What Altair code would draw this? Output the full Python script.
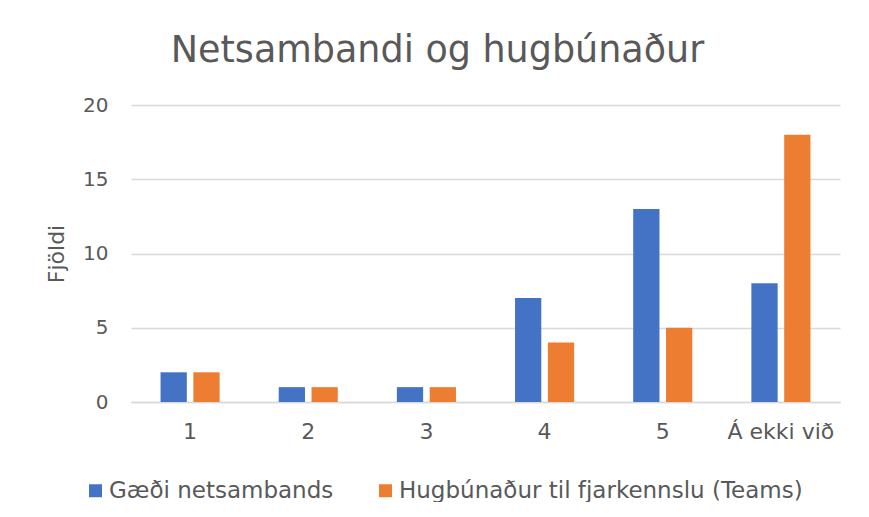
import altair as alt
import pandas as pd

categories = ["1", "2", "3", "4", "5", "Á ekki við"]
series_names = ["Gæði netsambands", "Hugbúnaður til fjarkennslu (Teams)"]
gaedi = [2, 1, 1, 7, 13, 8]
hugbunadur = [2, 1, 1, 4, 5, 18]
colors = ["#4472C4", "#ED7D31"]

rows = []
for c, a, b in zip(categories, gaedi, hugbunadur):
    rows.append({"flokkur": c, "röð": series_names[0], "fjöldi": a})
    rows.append({"flokkur": c, "röð": series_names[1], "fjöldi": b})
df = pd.DataFrame(rows)

FONT = "DejaVu Sans"
TXT = "#595959"
GRID = "#D9D9D9"

chart = alt.Chart(df).mark_bar().encode(
    x=alt.X("flokkur:N", sort=categories,
            scale=alt.Scale(paddingInner=0.5, paddingOuter=0.25),
            axis=alt.Axis(title=None, labelAngle=0, labelFontSize=22, labelColor=TXT,
                          labelFont=FONT, labelPadding=19, ticks=False, grid=False,
                          domainColor=GRID, domainWidth=1.5)),
    xOffset=alt.XOffset("röð:N", sort=series_names,
                        scale=alt.Scale(paddingInner=0.2, paddingOuter=0)),
    y=alt.Y("fjöldi:Q", scale=alt.Scale(domain=[0, 20]),
            axis=alt.Axis(title="Fjöldi", values=[0, 5, 10, 15, 20], labelFontSize=20,
                          labelColor=TXT, labelFont=FONT, labelPadding=23, ticks=False,
                          domain=False, gridColor=GRID, gridWidth=1.5,
                          titleFont=FONT, titleFontSize=22, titleFontWeight="normal",
                          titleColor=TXT, titlePadding=14)),
    color=alt.Color("röð:N", sort=series_names,
                    scale=alt.Scale(domain=series_names, range=colors),
                    legend=alt.Legend(title=None, orient="none", direction="horizontal",
                                      legendX=-47, legendY=374, padding=0,
                                      symbolType="square",
                                      symbolSize=169, symbolStrokeWidth=0,
                                      labelFontSize=23, labelFont=FONT, labelColor=TXT,
                                      labelOffset=2, columnPadding=40, labelLimit=600)),
).properties(
    width=709,
    height=297,
    title=alt.TitleParams("Netsambandi og hugbúnaður", anchor="middle", frame="group",
                          dx=-48, dy=45, offset=42, baseline="alphabetic", fontSize=36.5,
                          font=FONT, fontWeight="normal", color=TXT),
    autosize=alt.AutoSizeParams(type="none"),
    padding={"left": 123, "top": 97, "right": 20, "bottom": 100},
    view=alt.ViewBackground(stroke="transparent", strokeWidth=0),
).configure_view(strokeWidth=0, stroke="transparent").configure(background="white")

chart.save("out.html", embed_options={"renderer": "svg", "actions": False})
